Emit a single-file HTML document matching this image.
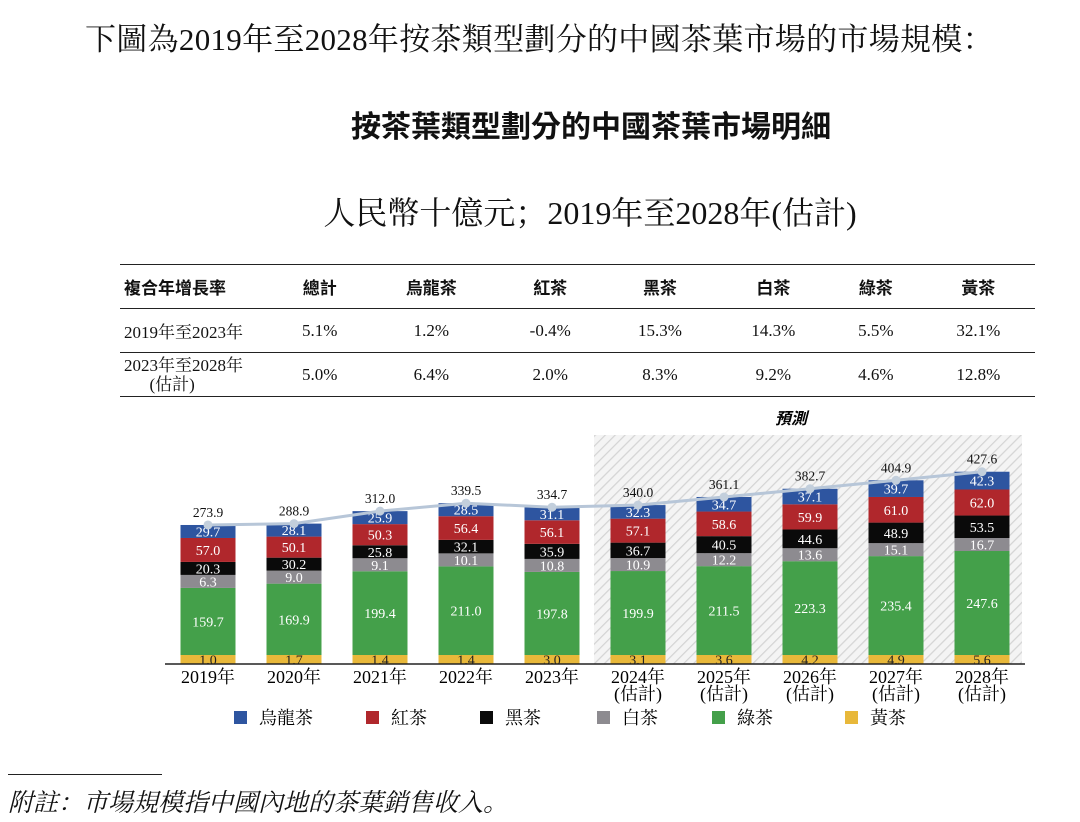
<!DOCTYPE html>
<html><head><meta charset="utf-8">
<style>
body{margin:0;background:#fff;width:1080px;height:822px;overflow:hidden;position:relative;font-family:"Liberation Serif","Noto Serif CJK SC","Noto Sans CJK TC",serif;color:#111}
.t{position:absolute;white-space:nowrap}
table{position:absolute;left:120px;top:264px;width:915px;border-collapse:collapse;font-size:17px}
td{height:43px;border-bottom:1px solid #222;text-align:center;padding:0}
tr:first-child td{border-top:1.5px solid #222;font-family:"Liberation Sans","Noto Sans CJK TC",sans-serif;font-weight:bold}
td:first-child{text-align:left;padding-left:4px}
</style></head><body>
<div class="t" style="left:85px;top:14px;font-size:31px;letter-spacing:0.3px">下圖為2019年至2028年按茶類型劃分的中國茶葉市場的市場規模：</div>
<div class="t" style="left:0;width:1182px;text-align:center;top:102px;font-size:30px;font-weight:bold;font-family:'Liberation Sans','Noto Sans CJK TC',sans-serif">按茶葉類型劃分的中國茶葉市場明細</div>
<div class="t" style="left:0;width:1180px;text-align:center;top:188px;font-size:32px">人民幣十億元；2019年至2028年(估計)</div>
<table>
<tr><td style="width:150px">複合年增長率</td><td>總計</td><td>烏龍茶</td><td>紅茶</td><td>黑茶</td><td>白茶</td><td>綠茶</td><td>黃茶</td></tr>
<tr><td>2019年至2023年</td><td>5.1%</td><td>1.2%</td><td>-0.4%</td><td>15.3%</td><td>14.3%</td><td>5.5%</td><td>32.1%</td></tr>
<tr><td style="line-height:19px">2023年至2028年<br>&nbsp;&nbsp;&nbsp;&nbsp;&nbsp;&nbsp;(估計)</td><td>5.0%</td><td>6.4%</td><td>2.0%</td><td>8.3%</td><td>9.2%</td><td>4.6%</td><td>12.8%</td></tr>
</table>
<svg id="chart" width="1080" height="822" style="position:absolute;left:0;top:0">
<defs><pattern id="hatch" width="7" height="7" patternUnits="userSpaceOnUse" patternTransform="rotate(45)"><rect width="7" height="7" fill="#f4f4f4"/><line x1="0" y1="0" x2="0" y2="7" stroke="#d4d4d4" stroke-width="2.5"/></pattern></defs>
</svg>
<div class="t" style="left:8px;top:774px;width:154px;border-top:1px solid #222"></div>
<div class="t" style="left:8px;top:783px;font-size:25px;font-style:italic">附註：市場規模指中國內地的茶葉銷售收入。</div>
<script>
const years=["2019年","2020年","2021年","2022年","2023年","2024年","2025年","2026年","2027年","2028年"];
const est=[false,false,false,false,false,true,true,true,true,true];
const totals=[273.9,288.9,312.0,339.5,334.7,340.0,361.1,382.7,404.9,427.6];
const yellow=[1.0,1.7,1.4,1.4,3.0,3.1,3.6,4.2,4.9,5.6];
const green=[159.7,169.9,199.4,211.0,197.8,199.9,211.5,223.3,235.4,247.6];
const white=[6.3,9.0,9.1,10.1,10.8,10.9,12.2,13.6,15.1,16.7];
const black=[20.3,30.2,25.8,32.1,35.9,36.7,40.5,44.6,48.9,53.5];
const red=[57.0,50.1,50.3,56.4,56.1,57.1,58.6,59.9,61.0,62.0];
const oolong=[29.7,28.1,25.9,28.5,31.1,32.3,34.7,37.1,39.7,42.3];
const seriesNames=["黃茶","綠茶","白茶","黑茶","紅茶","烏龍茶"];
const seriesColors=["#e8b83a","#44a04a","#8d8b90","#0a0a0a","#b0272c","#2e55a0"];
const seriesData=[yellow,green,white,black,red,oolong];
const svg=document.getElementById('chart');const NS="http://www.w3.org/2000/svg";
function mk(t,a,p){const e=document.createElementNS(NS,t);for(const k in a)e.setAttribute(k,a[k]);(p||svg).appendChild(e);return e;}
const base=664,x0=208,step=86,bw=55;
function xc(i){return x0+i*step;}
function segH(s,v){return s===0?9:Math.max(v*0.42,13);}
const fr=mk('rect',{x:594,y:435,width:428,height:229,fill:'url(#hatch)'});


const fl=mk('text',{x:791,y:424,'text-anchor':'middle','font-size':16,'font-weight':'bold','font-style':'italic','font-family':'"Liberation Sans","Noto Sans CJK TC",sans-serif'});fl.textContent='預測';


const tops=[];
years.forEach((y,i)=>{let yy=base;
 seriesData.forEach((d,s)=>{const h=segH(s,d[i]);yy-=h;
  const r=mk('rect',{x:xc(i)-bw/2,y:yy,width:bw,height:h,fill:seriesColors[s]});
  
  
  const t=mk('text',{x:xc(i),y:yy+h/2+5,'text-anchor':'middle','font-size':14,fill:s===0?'#222':'#fff'});t.textContent=d[i].toFixed(1);
  
  
 });
 tops.push(yy);
 const tt=mk('text',{x:xc(i),y:yy-8,'text-anchor':'middle','font-size':13.5,fill:'#111'});tt.textContent=totals[i].toFixed(1);
 
 
 const xl=mk('text',{x:xc(i),y:683,'text-anchor':'middle','font-size':18});xl.textContent=y;
 
 
 if(est[i]){const e2=mk('text',{x:xc(i),y:700,'text-anchor':'middle','font-size':18});e2.textContent='(估計)';
  
  }
});
const ax=mk('line',{x1:165,y1:base,x2:1025,y2:base,stroke:'#222','stroke-width':1.5});


const ln=mk('polyline',{points:tops.map((t,i)=>xc(i)+','+t).join(' '),fill:'none',stroke:'#b7c6d8','stroke-width':3});


tops.forEach((t,i)=>{const c=mk('circle',{cx:xc(i),cy:t,r:4.5,fill:'#c3cfdc'});
 
 });
const legOrder=[5,4,3,2,1,0];const legX=[234,366,480,597,712,845];
legOrder.forEach((s,k)=>{const r=mk('rect',{x:legX[k],y:711,width:13,height:13,fill:seriesColors[s]});
 
 
 const t=mk('text',{x:legX[k]+25,y:724,'font-size':18});t.textContent=seriesNames[s];
 
 });
</script>
</body></html>
